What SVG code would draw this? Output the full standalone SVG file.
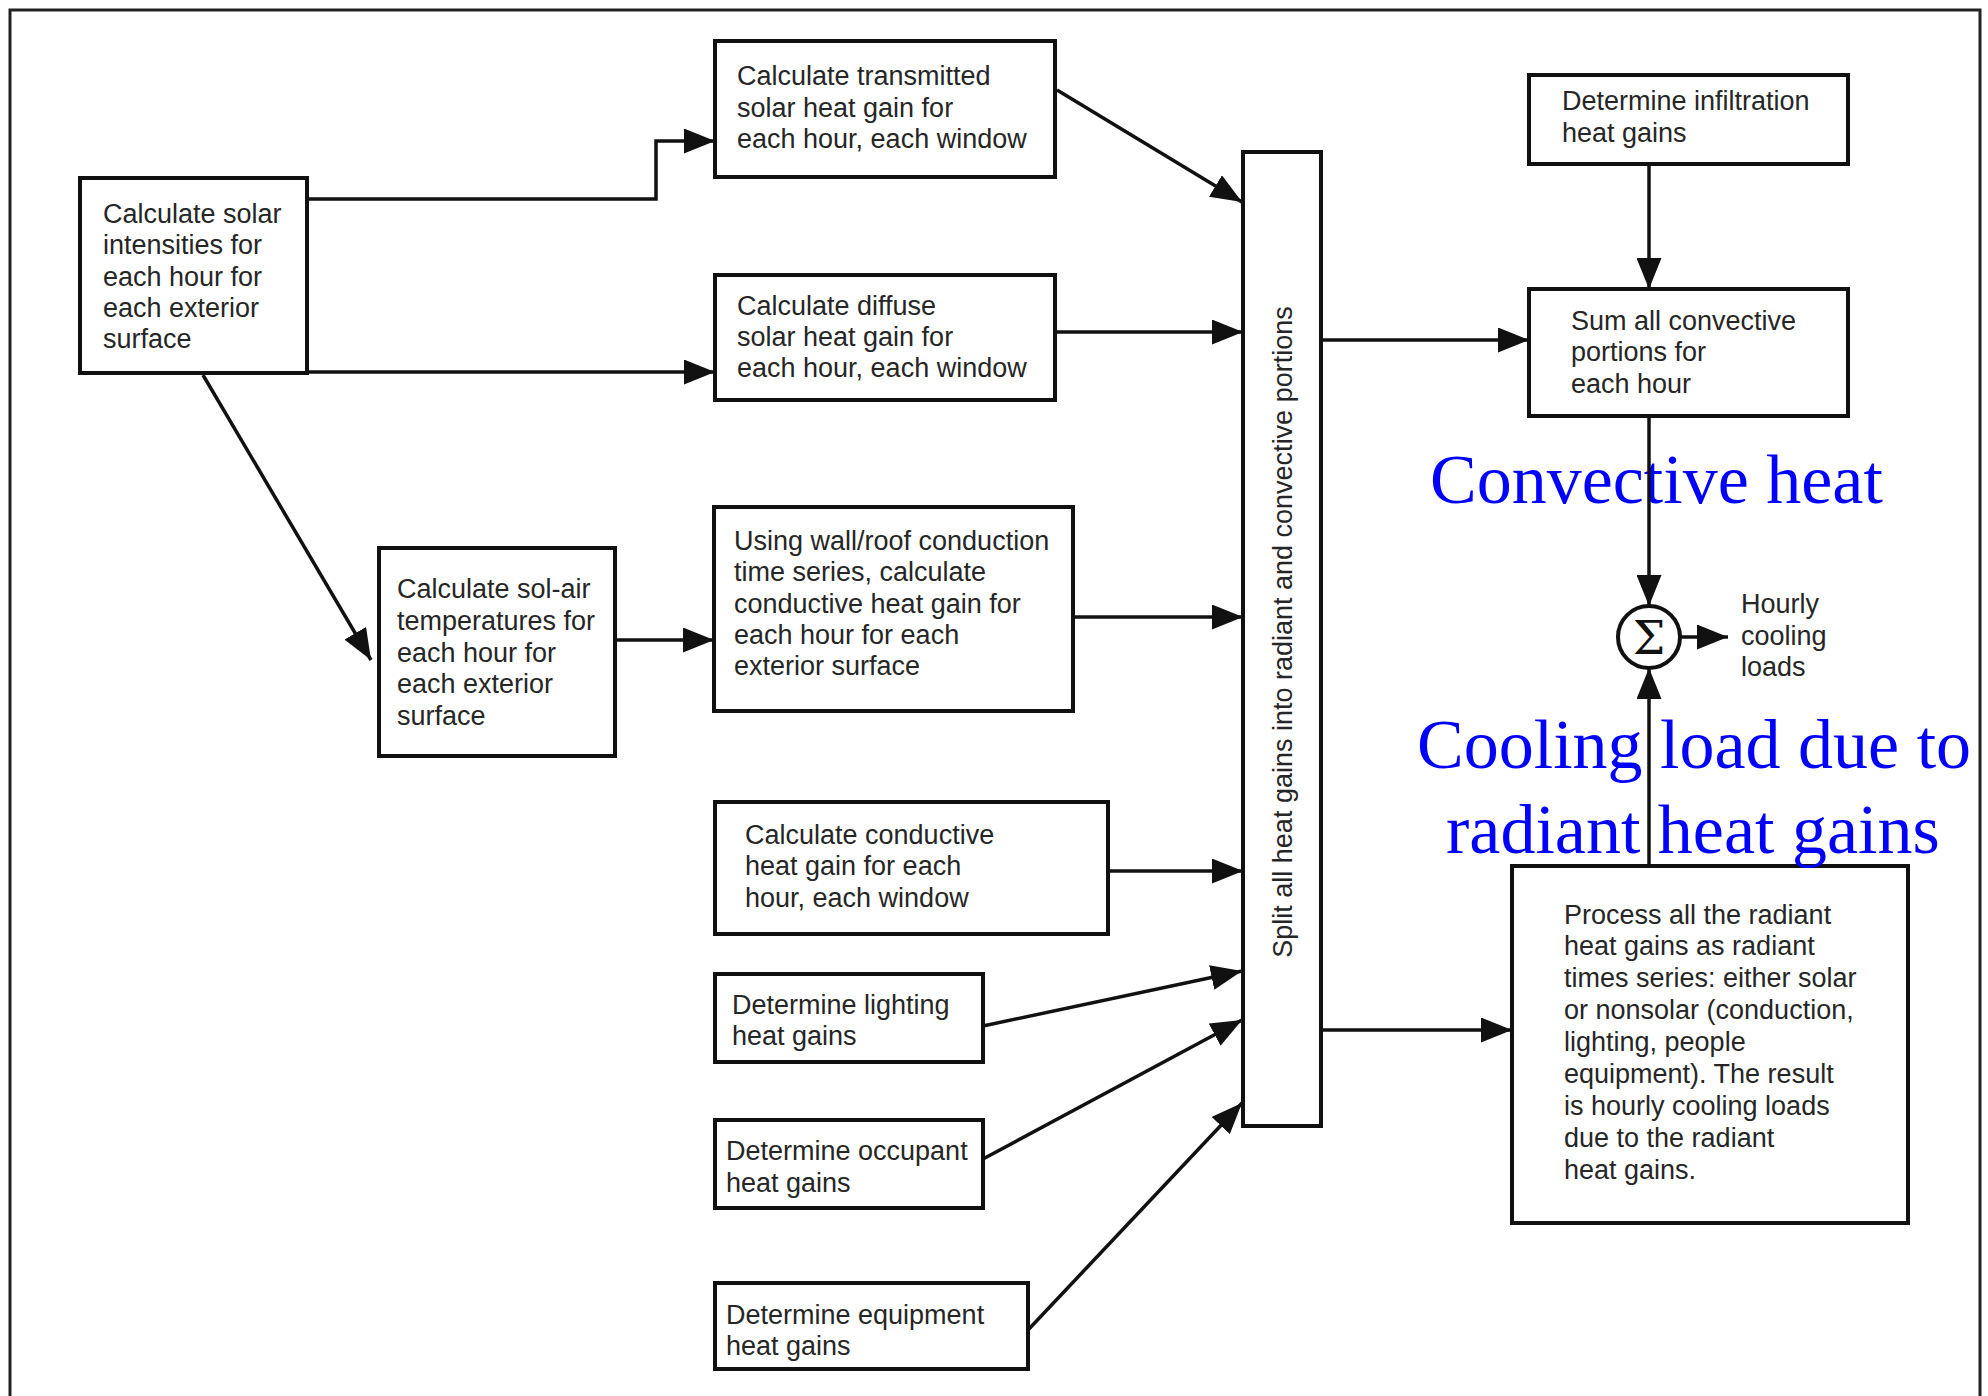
<svg xmlns="http://www.w3.org/2000/svg" width="1988" height="1396" viewBox="0 0 1988 1396">
<style>
.box{fill:#fff;stroke:#111;stroke-width:4}
.t{font-family:"Liberation Sans",Arial,sans-serif;font-size:27px;fill:#262626}
.con{fill:none;stroke:#111;stroke-width:3.5}
.blue{font-family:"Liberation Serif","Times New Roman",serif;font-size:70px;fill:#0000ff}
</style>
<defs>
<marker id="ah" markerUnits="userSpaceOnUse" markerWidth="31" markerHeight="25" refX="31" refY="12.5" orient="auto">
<path d="M0,0 L31,12.5 L0,25 z" fill="#111"/>
</marker>
</defs>
<rect width="1988" height="1396" fill="#fff"/>
<path d="M10,1400 V10 H1980 V1400" fill="none" stroke="#222" stroke-width="3"/>

<g id="n-solar"><rect class="box" x="80" y="178" width="227" height="195"/>
<text class="t"><tspan x="103" y="223">Calculate solar</tspan><tspan x="103" y="254">intensities for</tspan><tspan x="103" y="286">each hour for</tspan><tspan x="103" y="317">each exterior</tspan><tspan x="103" y="348">surface</tspan></text></g>

<g id="n-transmitted"><rect class="box" x="715" y="41" width="340" height="136"/>
<text class="t"><tspan x="737" y="85">Calculate transmitted</tspan><tspan x="737" y="117">solar heat gain for</tspan><tspan x="737" y="148">each hour, each window</tspan></text></g>

<g id="n-diffuse"><rect class="box" x="715" y="275" width="340" height="125"/>
<text class="t"><tspan x="737" y="315">Calculate diffuse</tspan><tspan x="737" y="346">solar heat gain for</tspan><tspan x="737" y="377">each hour, each window</tspan></text></g>

<g id="n-solair"><rect class="box" x="379" y="548" width="236" height="208"/>
<text class="t"><tspan x="397" y="598">Calculate sol-air</tspan><tspan x="397" y="630">temperatures for</tspan><tspan x="397" y="662">each hour for</tspan><tspan x="397" y="693">each exterior</tspan><tspan x="397" y="725">surface</tspan></text></g>

<g id="n-wallroof"><rect class="box" x="714" y="507" width="359" height="204"/>
<text class="t"><tspan x="734" y="550">Using wall/roof conduction</tspan><tspan x="734" y="581">time series, calculate</tspan><tspan x="734" y="613">conductive heat gain for</tspan><tspan x="734" y="644">each hour for each</tspan><tspan x="734" y="675">exterior surface</tspan></text></g>

<g id="n-condwindow"><rect class="box" x="715" y="802" width="393" height="132"/>
<text class="t"><tspan x="745" y="844">Calculate conductive</tspan><tspan x="745" y="875">heat gain for each</tspan><tspan x="745" y="907">hour, each window</tspan></text></g>

<g id="n-lighting"><rect class="box" x="715" y="974" width="268" height="88"/>
<text class="t"><tspan x="732" y="1014">Determine lighting</tspan><tspan x="732" y="1045">heat gains</tspan></text></g>

<g id="n-occupant"><rect class="box" x="715" y="1120" width="268" height="88"/>
<text class="t"><tspan x="726" y="1160">Determine occupant</tspan><tspan x="726" y="1192">heat gains</tspan></text></g>

<g id="n-equipment"><rect class="box" x="715" y="1283" width="313" height="86"/>
<text class="t"><tspan x="726" y="1324">Determine equipment</tspan><tspan x="726" y="1355">heat gains</tspan></text></g>

<g id="n-split"><rect class="box" x="1243" y="152" width="78" height="974"/>
<text class="t" text-anchor="middle" transform="translate(1292,632) rotate(-90)">Split all heat gains into radiant and convective portions</text></g>

<g id="n-infiltration"><rect class="box" x="1529" y="75" width="319" height="89"/>
<text class="t"><tspan x="1562" y="110">Determine infiltration</tspan><tspan x="1562" y="142">heat gains</tspan></text></g>

<g id="n-sumconv"><rect class="box" x="1529" y="289" width="319" height="127"/>
<text class="t"><tspan x="1571" y="330">Sum all convective</tspan><tspan x="1571" y="361">portions for</tspan><tspan x="1571" y="393">each hour</tspan></text></g>

<g id="n-radiant"><rect class="box" x="1512" y="866" width="396" height="357"/>
<text class="t"><tspan x="1564" y="924">Process all the radiant</tspan><tspan x="1564" y="955">heat gains as radiant</tspan><tspan x="1564" y="987">times series: either solar</tspan><tspan x="1564" y="1019">or nonsolar (conduction,</tspan><tspan x="1564" y="1051">lighting, people</tspan><tspan x="1564" y="1083">equipment). The result</tspan><tspan x="1564" y="1115">is hourly cooling loads</tspan><tspan x="1564" y="1147">due to the radiant</tspan><tspan x="1564" y="1179">heat gains.</tspan></text></g>

<g id="n-sigma"><circle cx="1649" cy="637" r="31" fill="#fff" stroke="#111" stroke-width="4"/>
<text x="1649" y="654" text-anchor="middle" style="font-family:'DejaVu Serif','Liberation Serif',serif;font-size:46px;fill:#111">Σ</text></g>

<g id="n-hourly"><text class="t"><tspan x="1741" y="613">Hourly</tspan><tspan x="1741" y="645">cooling</tspan><tspan x="1741" y="676">loads</tspan></text></g>

<g id="labels">
<text class="blue" x="1430" y="503">Convective heat</text>
<text class="blue" x="1417" y="768">Cooling load due to</text>
<text class="blue" x="1446" y="853">radiant heat gains</text>
</g>

<g id="connectors">
<path class="con" d="M307,199 H656 V141 H715" marker-end="url(#ah)"/>
<path class="con" d="M307,372 H715" marker-end="url(#ah)"/>
<path class="con" d="M203,375 L371,660" marker-end="url(#ah)"/>
<path class="con" d="M615,640 H714" marker-end="url(#ah)"/>
<path class="con" d="M1057,90 L1242,202" marker-end="url(#ah)"/>
<path class="con" d="M1055,332 H1243" marker-end="url(#ah)"/>
<path class="con" d="M1073,617 H1243" marker-end="url(#ah)"/>
<path class="con" d="M1108,871 H1243" marker-end="url(#ah)"/>
<path class="con" d="M983,1026 L1242,971" marker-end="url(#ah)"/>
<path class="con" d="M983,1159 L1242,1020" marker-end="url(#ah)"/>
<path class="con" d="M1028,1330 L1242,1103" marker-end="url(#ah)"/>
<path class="con" d="M1321,340 H1529" marker-end="url(#ah)"/>
<path class="con" d="M1321,1030 H1512" marker-end="url(#ah)"/>
<path class="con" d="M1649,164 V289" marker-end="url(#ah)"/>
<path class="con" d="M1649,416 V606" marker-end="url(#ah)"/>
<path class="con" d="M1649,866 V668" marker-end="url(#ah)"/>
<path class="con" d="M1680,637 H1728" marker-end="url(#ah)"/>
</g>
</svg>
